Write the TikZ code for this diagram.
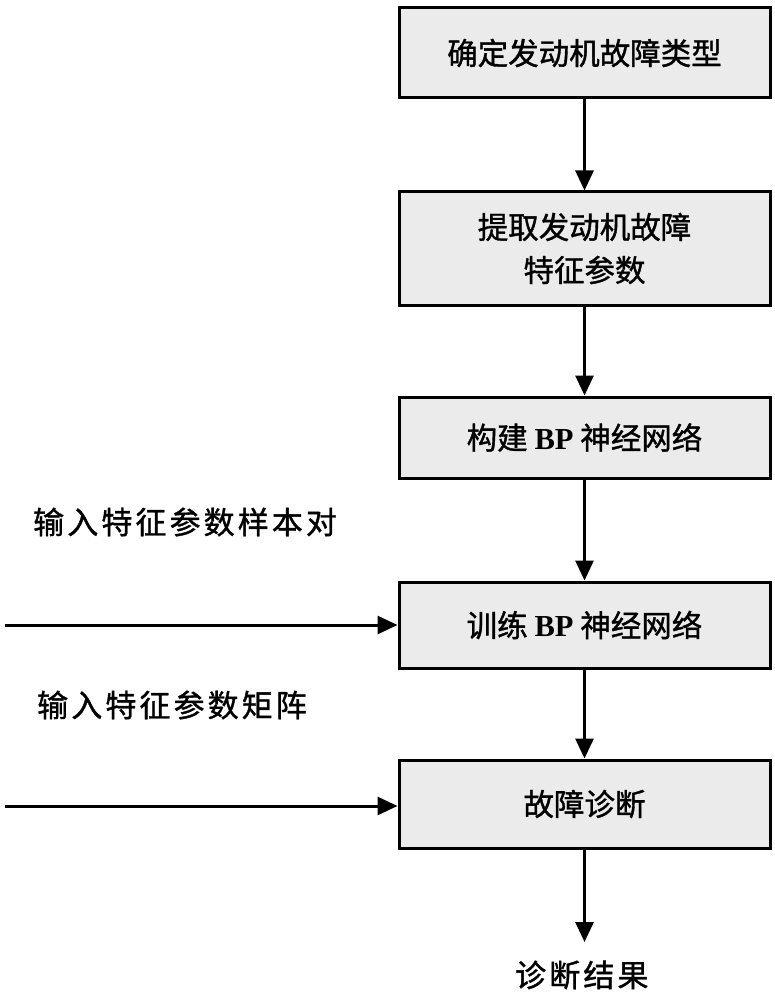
\documentclass[tikz,border=0pt]{standalone}
\usepackage{fontspec}
\setmainfont{Liberation Serif}
\newfontfamily\cjk{Noto Sans CJK SC}[FakeBold=1.2]
\newfontfamily\cjksp{Noto Sans CJK SC}[FakeBold=1.2, LetterSpace=10]
\usetikzlibrary{arrows.meta}
\definecolor{boxfill}{HTML}{EBEBEB}
\newcommand{\bp}{{\rmfamily\bfseries BP}}
\tikzset{
  stepbox/.style={draw=black, line width=3pt, fill=boxfill, minimum width=371pt, inner sep=0pt, align=center, font=\fontsize{30.5}{43}\selectfont},
  flow/.style={line width=3pt, -{Triangle[width=18pt,length=20pt]}},
  lbl/.style={inner sep=0pt, anchor=west, font=\fontsize{31}{36}\selectfont\cjksp}
}
\begin{document}
\begin{tikzpicture}[x=1pt,y=-1pt]
\useasboundingbox (0,0) rectangle (775,1000);
\node[stepbox, minimum height=90pt] (b1) at (584.5,53) {\cjk 确定发动机故障类型};
\node[stepbox, minimum height=113pt] (b2) at (584.5,248.5) {\cjk 提取发动机故障\\\cjk 特征参数};
\node[stepbox, minimum height=81pt] (b3) at (584.5,437.5) {\cjk 构建 \bp{} 神经网络};
\node[stepbox, minimum height=86pt] (b4) at (584.5,625) {\cjk 训练 \bp{} 神经网络};
\node[stepbox, minimum height=88pt] (b5) at (584.5,804) {\cjk 故障诊断};
\node[inner sep=0pt, anchor=west, font=\fontsize{31}{36}\selectfont\cjksp] (res) at (515,975) {诊断结果};
\node[lbl] (l1) at (33,522) {输入特征参数样本对};
\node[lbl] (l2) at (37,705) {输入特征参数矩阵};
\coordinate (s1) at (5,625);
\coordinate (s2) at (5,806);
\coordinate (e) at (584.5,942);
\draw[flow] (b1) -- (b2);
\draw[flow] (b2) -- (b3);
\draw[flow] (b3) -- (b4);
\draw[flow] (b4) -- (b5);
\draw[flow] (b5.south) -- (e);
\draw[flow] (s1) -- (s1 -| b4.west);
\draw[flow] (s2) -- (s2 -| b5.west);
\end{tikzpicture}
\end{document}
